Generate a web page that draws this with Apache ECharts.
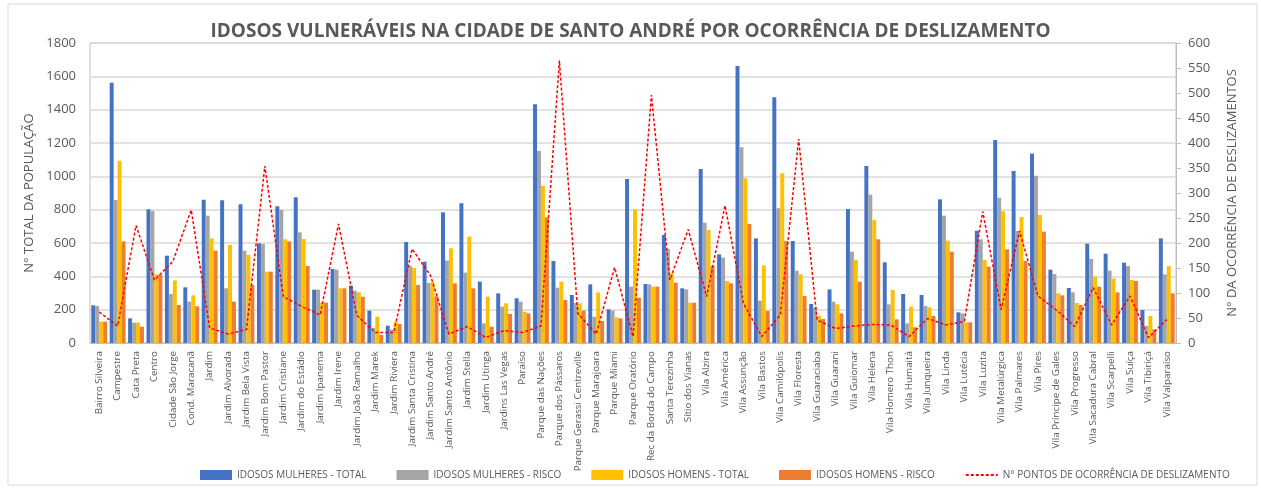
<!DOCTYPE html>
<html lang="pt">
<head>
  <meta charset="UTF-8">
  <title>Idosos vulneráveis - Santo André</title>
  <script src="https://cdn.jsdelivr.net/npm/echarts@6/dist/echarts.min.js"></script>
  <style>
    html, body { margin: 0; padding: 0; background: #fff; }
    #chart { width: 1261px; height: 489px; }
  </style>
</head>
<body>
  <div id="chart"></div>
  <script>
    // bairros
    var bairros = [
      'Bairro Silveira', 'Campestre', 'Cata Preta', 'Centro', 'Cidade São Jorge', 'Cond. Maracanã',
      'Jardim', 'Jardim Alvorada', 'Jardim Bela Vista', 'Jardim Bom Pastor', 'Jardim Cristiane',
      'Jardim do Estádio', 'Jardim Ipanema', 'Jardim Irene', 'Jardim João Ramalho', 'Jardim Marek',
      'Jardim Riviera', 'Jardim Santa Cristina', 'Jardim Santo André', 'Jardim Santo Antônio',
      'Jardim Stella', 'Jardim Utinga', 'Jardins Las Vegas', 'Paraíso', 'Parque das Nações',
      'Parque dos Pássaros', 'Parque Gerassi Centreville', 'Parque Marajoara', 'Parque Miami',
      'Parque Oratório', 'Rec da Borda do Campo', 'Santa Terezinha', 'Sítio dos Vianas',
      'Vila Alzira', 'Vila América', 'Vila Assunção', 'Vila Bastos', 'Vila Camilópolis',
      'Vila Floresta', 'Vila Guaraciaba', 'Vila Guarani', 'Vila Guiomar', 'Vila Helena',
      'Vila Homero Thon', 'Vila Humaitá', 'Vila Junqueira', 'Vila Linda', 'Vila Lutécia',
      'Vila Luzita', 'Vila Metalúrgica', 'Vila Palmares', 'Vila Pires', 'Vila Príncipe de Gales',
      'Vila Progresso', 'Vila Sacadura Cabral', 'Vila Scarpelli', 'Vila Suíça', 'Vila Tibiriçá',
      'Vila Valparaíso'
    ];

    var mulheresTotal = [
      226, 1562, 148, 802, 524, 334, 860, 856, 832, 598, 820, 874, 320, 444, 344, 194, 104, 606, 488, 784,
      838, 368, 298, 268, 1432, 492, 288, 352, 202, 984, 354, 648, 328, 1044, 532, 1662, 628, 1474, 612, 234,
      322, 804, 1062, 484, 294, 288, 862, 184, 674, 1218, 1032, 1136, 440, 330, 596, 536, 482, 198, 628
    ];
    var mulheresRisco = [
      222, 858, 122, 792, 294, 248, 764, 328, 554, 594, 798, 664, 320, 440, 314, 90, 80, 462, 360, 494,
      422, 118, 218, 248, 1152, 332, 240, 158, 194, 338, 352, 564, 322, 722, 512, 1174, 254, 808, 434, 212,
      248, 548, 890, 232, 118, 222, 764, 178, 622, 872, 672, 1004, 414, 304, 504, 434, 462, 102, 412
    ];
    var homensTotal = [
      128, 1094, 122, 412, 376, 286, 628, 588, 530, 428, 622, 624, 242, 328, 304, 158, 128, 450, 365, 568,
      638, 278, 238, 188, 944, 368, 238, 304, 154, 802, 338, 418, 242, 678, 372, 988, 466, 1018, 412, 164,
      232, 498, 738, 318, 218, 214, 614, 124, 498, 790, 756, 768, 298, 240, 398, 386, 378, 162, 462
    ];
    var homensRisco = [
      128, 610, 98, 408, 228, 220, 554, 248, 348, 428, 610, 462, 242, 328, 278, 48, 114, 348, 280, 358,
      328, 98, 174, 178, 754, 258, 194, 132, 148, 272, 338, 362, 242, 462, 358, 714, 192, 612, 282, 144,
      178, 368, 622, 142, 94, 162, 548, 124, 458, 562, 492, 668, 286, 228, 338, 304, 372, 82, 298
    ];
    // eixo direito
    var deslizamentos = [
      62, 34, 235, 126, 163, 266, 30, 18, 27, 354, 93, 73, 56, 238, 55, 21, 21, 188, 135, 18,
      33, 11, 25, 21, 34, 565, 59, 18, 151, 13, 496, 126, 227, 93, 275, 79, 13, 56, 408, 46,
      29, 34, 37, 36, 13, 49, 36, 43, 263, 67, 224, 94, 66, 33, 111, 36, 94, 11, 47
    ];

    var serieNomes = [
      'IDOSOS MULHERES - TOTAL', 'IDOSOS MULHERES - RISCO', 'IDOSOS HOMENS - TOTAL',
      'IDOSOS HOMENS - RISCO', 'N° PONTOS DE OCORRÊNCIA DE DESLIZAMENTO'
    ];
    var cores = ['#4472C4', '#A5A5A5', '#FFC000', '#ED7D31', '#FF0000'];

    var chart = echarts.init(document.getElementById('chart'));
    var txt = '#595959';
    var fonte = '"Open Sans", "Liberation Sans", sans-serif';

    function barra(i, dados) {
      return {
        name: serieNomes[i],
        type: 'bar',
        data: dados,
        barGap: '0%',
        barCategoryGap: '14%',
        itemStyle: { color: cores[i] },
        animation: false
      };
    }

    chart.setOption({
      textStyle: { fontFamily: fonte },
      title: {
        text: 'IDOSOS VULNERÁVEIS NA CIDADE DE SANTO ANDRÉ POR OCORRÊNCIA DE DESLIZAMENTO',
        left: 'center',
        top: 17,
        textStyle: { color: txt, fontSize: 19, fontWeight: 'bold', fontFamily: fonte }
      },
      graphic: [{
        type: 'rect',
        shape: { x: 8, y: 4, width: 1249, height: 481 },
        style: { fill: 'none', stroke: '#d9d9d9', lineWidth: 1 },
        silent: true
      }],
      legend: {
        bottom: 4,
        left: 195,
        itemGap: 30,
        itemWidth: 32,
        itemHeight: 10,
        textStyle: { color: txt, fontSize: 10 },
        data: [
          { name: serieNomes[0], icon: 'rect' },
          { name: serieNomes[1], icon: 'rect' },
          { name: serieNomes[2], icon: 'rect' },
          { name: serieNomes[3], icon: 'rect' },
          { name: serieNomes[4], itemStyle: { opacity: 0 } }
        ]
      },
      grid: {
        left: 90, right: 85, top: 43, bottom: 146,
        show: true, borderColor: '#bfbfbf', borderWidth: 1
      },
      xAxis: {
        type: 'category',
        data: bairros,
        axisTick: { show: false },
        axisLine: { lineStyle: { color: '#bfbfbf' } },
        axisLabel: { rotate: 90, interval: 0, color: txt, fontSize: 9.8, margin: 8 }
      },
      yAxis: [{
        type: 'value',
        min: 0, max: 1800, interval: 200,
        name: 'N° TOTAL DA POPULAÇÃO',
        nameLocation: 'middle',
        nameGap: 46,
        nameRotate: 90,
        nameTextStyle: { color: txt, fontSize: 13 },
        axisLabel: { color: txt, fontSize: 13, margin: 14, formatter: function (v) { return String(v); } },
        splitLine: { lineStyle: { color: '#d9d9d9', width: 1.5 } },
        axisLine: { show: false },
        axisTick: { show: false }
      }, {
        type: 'value',
        min: 0, max: 600, interval: 50,
        position: 'right',
        name: 'N° DA OCORRÊNCIA DE DESLIZAMENTOS',
        nameLocation: 'middle',
        nameGap: 50,
        nameRotate: 90,
        nameTextStyle: { color: txt, fontSize: 13 },
        axisLabel: { color: txt, fontSize: 13, margin: 12 },
        splitLine: { show: false },
        axisLine: { show: true, lineStyle: { color: '#bfbfbf' } },
        axisTick: { show: true, length: 5, lineStyle: { color: '#bfbfbf' } }
      }],
      series: [
        barra(0, mulheresTotal),
        barra(1, mulheresRisco),
        barra(2, homensTotal),
        barra(3, homensRisco),
        {
          name: serieNomes[4],
          type: 'line',
          yAxisIndex: 1,
          data: deslizamentos,
          symbol: 'none',
          itemStyle: { color: cores[4] },
          lineStyle: { color: cores[4], width: 1.5, type: [3, 2] },
          animation: false
        }
      ]
    });
  </script>
</body>
</html>
